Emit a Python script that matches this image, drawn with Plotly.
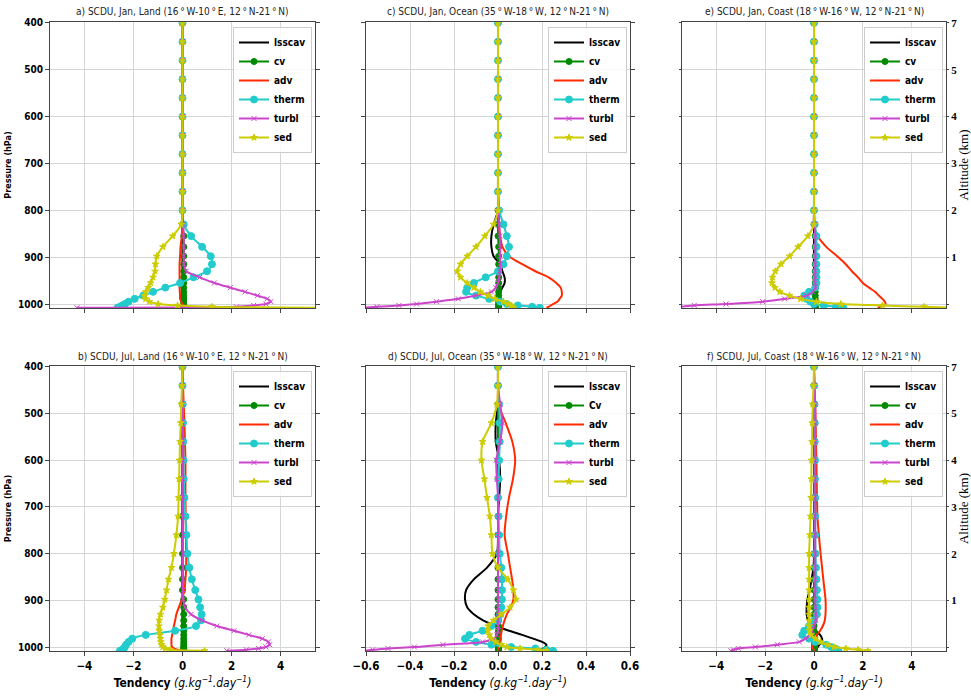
import plotly.graph_objects as go

W, H = 971, 696

# Pressure levels (hPa)
P = [400, 440, 480, 520, 560, 600, 640, 680, 720, 760, 800, 830, 855, 878, 898,
     915, 930, 943, 955, 965, 974, 982, 989, 995, 1000, 1003, 1006, 1008]

series = ["lsscav", "cv", "adv", "therm", "turbl", "sed"]

# ---- a) Jan, Land
lsscav_a = [0] * 28
cv_a = [0] * 12 + [0.05] * 16
adv_a = [0] * 12 + [-0.03, -0.08, -0.1, -0.12, -0.12, -0.12, -0.12, -0.12, -0.11, -0.1, -0.1, -0.05, 0.0, 0.05, 0.1, 0.1]
therm_a = [0] * 11 + [0.05, 0.35, 0.8, 1.15, 1.2, 1.0, 0.45, -0.1, -0.7, -1.2, -1.6, -1.95, -2.2, -2.35, -2.45, -2.55, -2.65]
turbl_a = [0] * 11 + [0.03, 0.05, 0.05, 0.05, 0.06, 0.15, 0.7, 1.3, 1.95, 2.55, 3.05, 3.45, 3.6, 3.4, 2.9, 2.2, -4.3]
sed_a = [0] * 11 + [-0.05, -0.4, -0.8, -1.05, -1.1, -1.12, -1.2, -1.3, -1.4, -1.5, -1.55, -1.5, -1.35, -1.0, -0.2, 1.2, 6.0]

# ---- b) Jul, Land
lsscav_b = [0] * 28
cv_b = [0] * 14 + [0.05] * 14
adv_b = [0, 0.02, 0.05, 0.08, 0.1, 0.12, 0.12, 0.12, 0.13, 0.14, 0.15, 0.15, 0.12, 0.08, -0.03,
         -0.15, -0.25, -0.3, -0.35, -0.38, -0.42, -0.45, -0.45, -0.45, -0.42, -0.35, -0.2, 0.0]
therm_b = [0, 0, 0.01, 0.02, 0.03, 0.04, 0.05, 0.08, 0.12, 0.16, 0.2, 0.28, 0.38, 0.52, 0.65,
           0.72, 0.78, 0.75, 0.55, -0.3, -1.5, -2.05, -2.2, -2.3, -2.35, -2.4, -2.45, -2.55]
turbl_b = [0, 0.01, 0.02, 0.02, 0.02, 0.02, 0.02, 0.02, 0.02, 0.02, 0.02, 0.02, 0.02, 0.02, 0.03,
           0.1, 0.35, 0.8, 1.4, 2.1, 2.7, 3.25, 3.5, 3.55, 3.4, 3.1, 2.6, 1.8]
sed_b = [0, -0.02, -0.05, -0.07, -0.1, -0.12, -0.14, -0.16, -0.18, -0.25, -0.35, -0.45, -0.57, -0.65, -0.72,
         -0.8, -0.9, -0.95, -0.96, -0.95, -0.92, -0.9, -0.88, -0.85, -0.8, -0.7, -0.5, 0.9]

# ---- c) Jan, Ocean
lsscav_c = [0] * 11 + [-0.02, -0.03, -0.03, -0.02, 0.01, 0.02, 0.03, 0.03, 0.02, 0.01, 0.005, 0.0, 0.0, 0.0, 0.0, 0.0, 0.0]
cv_c = [0] * 13 + [0.003] * 15
adv_c = [0] * 10 + [0.005, 0.005, 0.01, 0.02, 0.05, 0.11, 0.17, 0.23, 0.265, 0.285, 0.29, 0.29, 0.28, 0.27, 0.25, 0.24, 0.23, 0.22]
therm_c = [0] * 10 + [0.005, 0.025, 0.04, 0.05, 0.04, 0.025, 0.0, -0.056, -0.11, -0.14, -0.145, -0.1, -0.04, 0.01, 0.04, 0.09, 0.155, 0.19]
turbl_c = [0] * 11 + [0.005, 0.008, 0.01, 0.01, 0.01, 0.008, 0.005, 0.0, -0.01, -0.03, -0.1, -0.18, -0.28, -0.37, -0.45, -0.55, -0.62]
sed_c = [0] * 11 + [-0.02, -0.06, -0.1, -0.14, -0.17, -0.185, -0.17, -0.14, -0.11, -0.08, -0.045, -0.015, 0.025, 0.045, 0.06, 0.065, 0.07]

# ---- d) Jul, Ocean
lsscav_d = [0, 0, 0, -0.01, -0.01, 0.005, 0.01, 0.005, 0.0, 0.0, -0.005, -0.05, -0.11, -0.145, -0.15,
            -0.14, -0.11, -0.068, -0.01, 0.05, 0.11, 0.16, 0.2, 0.22, 0.215, 0.205, 0.195, 0.19]
cv_d = [0] * 17 + [0.002] * 11
adv_d = [0.0, 0.0, 0.002, 0.035, 0.065, 0.078, 0.068, 0.05, 0.037, 0.03, 0.045, 0.055, 0.064, 0.07, 0.07,
         0.058, 0.04, 0.03, 0.022, 0.017, 0.013, 0.01, 0.008, 0.005, 0.0, 0.0, 0.0, 0.0]
therm_d = [0, 0, 0.005, 0.008, 0.008, 0.005, 0.003, 0.0, 0.003, 0.005, 0.008, 0.015, 0.018, 0.018, 0.018,
           0.015, 0.01, 0.0, -0.03, -0.07, -0.13, -0.15, -0.1, -0.03, 0.06, 0.17, 0.22, 0.25]
turbl_d = [0, 0.0, 0.01, 0.02, 0.01, -0.008, -0.005, 0.0, 0.0, 0.0, 0.0, 0.0, 0.0, 0.0, 0.0,
           0.0, 0.0, 0.0, 0.0, 0.0, -0.005, -0.02, -0.07, -0.25, -0.38, -0.5, -0.57, -0.62]
sed_d = [0, 0, -0.005, -0.03, -0.07, -0.075, -0.062, -0.05, -0.037, -0.03, -0.025, 0.0, 0.045, 0.07, 0.082,
         0.055, 0.015, -0.02, -0.045, -0.045, -0.04, -0.03, -0.01, 0.015, 0.04, 0.1, 0.18, 0.22]

# ---- e) Jan, Coast
lsscav_e = [0] * 28
cv_e = [0] * 12 + [0.05] * 16
adv_e = [0] * 11 + [0.0, 0.15, 0.5, 0.95, 1.3, 1.55, 1.8, 2.0, 2.25, 2.5, 2.65, 2.8, 2.9, 2.93, 2.85, 2.72, 2.6]
therm_e = [0] * 11 + [0.03, 0.1, 0.1, 0.1, 0.1, 0.1, 0.1, 0.1, 0.05, -0.2, -0.4, -0.3, -0.15, 0.0, 0.4, 0.9, 1.2]
turbl_e = [0] * 11 + [0.03, 0.05, 0.05, 0.05, 0.05, 0.05, 0.05, 0.05, 0.06, -0.05, -0.3, -1.2, -2.1, -3.6, -4.9, -5.5, -6.0]
sed_e = [0] * 11 + [0.0, -0.25, -0.65, -1.0, -1.35, -1.58, -1.7, -1.72, -1.6, -1.4, -1.0, -0.55, 0.1, 1.1, 2.8, 4.5, 6.0]

# ---- f) Jul, Coast
lsscav_f = [0] * 11 + [-0.02, -0.1, -0.18, -0.27, -0.3, -0.3, -0.25, -0.15, 0.05, 0.25, 0.33, 0.32, 0.22, 0.15, 0.1, 0.08, 0.05]
cv_f = [0] * 20 + [0.02] * 8
adv_f = [0, 0.02, 0.05, 0.07, 0.08, 0.1, 0.11, 0.12, 0.14, 0.2, 0.27, 0.33, 0.38, 0.43, 0.47,
         0.48, 0.47, 0.44, 0.36, 0.25, 0.12, 0.03, -0.02, -0.06, -0.07, -0.05, 0.0, 0.0]
therm_f = [0, 0.01, 0.02, 0.03, 0.03, 0.04, 0.04, 0.05, 0.05, 0.05, 0.06, 0.08, 0.1, 0.12, 0.14,
           0.14, 0.12, 0.0, -0.2, -0.4, -0.48, -0.2, 0.05, 0.5, 0.7, 0.85, 0.95, 1.0]
turbl_f = [0, 0.02, 0.05, 0.05, 0.05, 0.05, 0.05, 0.05, 0.05, 0.05, 0.05, 0.05, 0.05, 0.05, 0.05,
           0.06, 0.07, 0.07, 0.0, -0.08, -0.15, -0.35, -0.6, -1.5, -2.4, -3.1, -3.3, -3.4]
sed_f = [0, -0.02, -0.05, -0.07, -0.08, -0.1, -0.11, -0.12, -0.14, -0.17, -0.2, -0.2, -0.2, -0.2, -0.2,
         -0.2, -0.2, -0.2, -0.2, -0.18, -0.12, 0.05, 0.27, 0.55, 0.82, 1.3, 1.8, 2.2]

titles = [
    "a) SCDU, Jan, Land (16\u2009°\u2009W-10\u2009°\u2009E, 12\u2009°\u2009N-21\u2009°\u2009N)",
    "c) SCDU, Jan, Ocean (35\u2009°\u2009W-18\u2009°\u2009W, 12\u2009°\u2009N-21\u2009°\u2009N)",
    "e) SCDU, Jan, Coast (18\u2009°\u2009W-16\u2009°\u2009W, 12\u2009°\u2009N-21\u2009°\u2009N)",
    "b) SCDU, Jul, Land (16\u2009°\u2009W-10\u2009°\u2009E, 12\u2009°\u2009N-21\u2009°\u2009N)",
    "d) SCDU, Jul, Ocean (35\u2009°\u2009W-18\u2009°\u2009W, 12\u2009°\u2009N-21\u2009°\u2009N)",
    "f) SCDU, Jul, Coast (18\u2009°\u2009W-16\u2009°\u2009W, 12\u2009°\u2009N-21\u2009°\u2009N)",
]
pressure_ticks = [400, 500, 600, 700, 800, 900, 1000]
altitude_vals = [400, 500, 600, 700, 800, 900]
altitude_ticks = ["7", "5", "4", "3", "2", "1"]
wide_ticks = [-4, -2, 0, 2, 4]
narrow_ticks = [-0.6, -0.4, -0.2, 0.0, 0.2, 0.4, 0.6]

panel_data = [
    [lsscav_a, cv_a, adv_a, therm_a, turbl_a, sed_a],
    [lsscav_c, cv_c, adv_c, therm_c, turbl_c, sed_c],
    [lsscav_e, cv_e, adv_e, therm_e, turbl_e, sed_e],
    [lsscav_b, cv_b, adv_b, therm_b, turbl_b, sed_b],
    [lsscav_d, cv_d, adv_d, therm_d, turbl_d, sed_d],
    [lsscav_f, cv_f, adv_f, therm_f, turbl_f, sed_f],
]
legend_names = [series, series, series, series,
                ["lsscav", "Cv", "adv", "therm", "turbl", "sed"], series]

FONT = "DejaVu Sans Condensed, Liberation Sans Narrow, DejaVu Sans, sans-serif"
SERIF = "Liberation Serif, DejaVu Serif, serif"

colors = {"lsscav": "black", "cv": "#008a00", "adv": "#ff2a00",
          "therm": "#22cccc", "turbl": "#cc44cc", "sed": "#cccc00"}

def trace_style(s):
    c = colors[s]
    if s in ("lsscav", "adv"):
        return dict(mode="lines", line=dict(color=c, width=2, shape="spline", smoothing=0.7))
    sym = {"cv": ("circle", 6), "therm": ("circle", 7),
           "turbl": ("x-thin-open", 5), "sed": ("star", 5)}[s]
    mk = dict(symbol=sym[0], size=sym[1], color=c, line=dict(color=c, width=1))
    return dict(mode="lines+markers", line=dict(color=c, width=2, shape="spline", smoothing=0.7), marker=mk)

# margins (px) and pixel geometry of the panels
ML, MR, MT, MB = 50, 25, 22, 45
PW, PH = W - ML - MR, H - MT - MB

def fx(px):
    return (px - ML) / PW

def fy(py):
    return (H - MB - py) / PH

xpix = [(50, 315), (366, 630), (682, 946)]
ypix = [(22, 308), (366, 651)]

fig = go.Figure()
layout = dict(width=W, height=H, margin=dict(l=ML, r=MR, t=MT, b=MB, autoexpand=False),
              paper_bgcolor="white", plot_bgcolor="white", showlegend=True,
              font=dict(family=FONT, color="black"), annotations=[])

for i in range(6):
    row, col = divmod(i, 3)
    k = i + 1
    xs = "x" if k == 1 else f"x{k}"
    ys = "y" if k == 1 else f"y{k}"
    leg = "legend" if k == 1 else f"legend{k}"
    for j, s in enumerate(series):
        fig.add_trace(go.Scatter(x=panel_data[i][j], y=P, name=legend_names[i][j],
                                 xaxis=xs, yaxis=ys, legend=leg, hoverinfo="skip",
                                 **trace_style(s)))
    x0, x1 = xpix[col]
    yt, yb = ypix[row]
    narrow = col == 1
    xax = dict(domain=[max(0, fx(x0)), min(1, fx(x1))], anchor=ys,
               range=[-0.6, 0.6] if narrow else [-5.4, 5.4],
               tickmode="array",
               tickvals=narrow_ticks if narrow else wide_ticks,
               tickformat=".1f" if narrow else "d",
               showticklabels=(row == 1),
               tickfont=dict(family=FONT, size=11.5, weight="bold", color="black"),
               showgrid=True, gridcolor="#d5d5d5", gridwidth=1, zeroline=False,
               showline=True, linecolor="#444", linewidth=1, mirror=True,
               ticks="outside", ticklen=4, tickcolor="#444", automargin=True)
    if row == 1:
        xax["title"] = dict(text="<b>Tendency</b> <i>(g.kg<sup>−1</sup>.day<sup>−1</sup>)</i>",
                            font=dict(family=FONT, size=12, color="black"), standoff=6)
    yax = dict(domain=[max(0, fy(yb)), min(1, fy(yt))], anchor=xs,
               range=[1008.5, 398], tickmode="array", tickvals=pressure_ticks,
               showgrid=True, gridcolor="#d5d5d5", gridwidth=1, zeroline=False,
               showline=True, linecolor="#444", linewidth=1, mirror="ticks",
               ticks="outside", ticklen=4, tickcolor="#444", automargin=True)
    if col == 0:
        yax.update(ticktext=[str(p) for p in pressure_ticks], showticklabels=True,
                   tickfont=dict(family=FONT, size=10, weight="bold", color="black"),
                   title=dict(text="<b>Pressure (hPa)</b>", font=dict(family=FONT, size=9, color="black"), standoff=4))
    elif col == 2:
        yax.update(side="right", tickvals=altitude_vals, ticktext=altitude_ticks, showticklabels=True,
                   ticklen=2,
                   tickfont=dict(family=SERIF, size=11, weight="bold", color="black"),
                   minor=dict(tickmode="array", tickvals=[1000], showgrid=True, gridcolor="#d5d5d5",
                              ticks="outside", ticklen=2, tickcolor="#444"),
                   title=dict(text="Altitude (km)", font=dict(family=SERIF, size=13, color="black"), standoff=4))
    else:
        yax["showticklabels"] = False
    layout["xaxis" if k == 1 else f"xaxis{k}"] = xax
    layout["yaxis" if k == 1 else f"yaxis{k}"] = yax
    layout[leg] = dict(x=fx(x1 - 3), y=fy(yt + 5), xanchor="right", yanchor="top",
                       xref="paper", yref="paper",
                       bgcolor="rgba(255,255,255,0.85)", bordercolor="#cccccc", borderwidth=1,
                       font=dict(family=FONT, size=10, weight="bold", color="black"),
                       itemwidth=30, tracegroupgap=0)
    layout["annotations"].append(dict(text=titles[i], xref="paper", yref="paper",
                                      x=fx((x0 + x1) / 2), y=fy(yt - 10),
                                      xanchor="center", yanchor="middle", showarrow=False,
                                      font=dict(family=FONT, size=10, color="#222")))

fig.update_layout(**layout)
fig.write_html("out.html")
